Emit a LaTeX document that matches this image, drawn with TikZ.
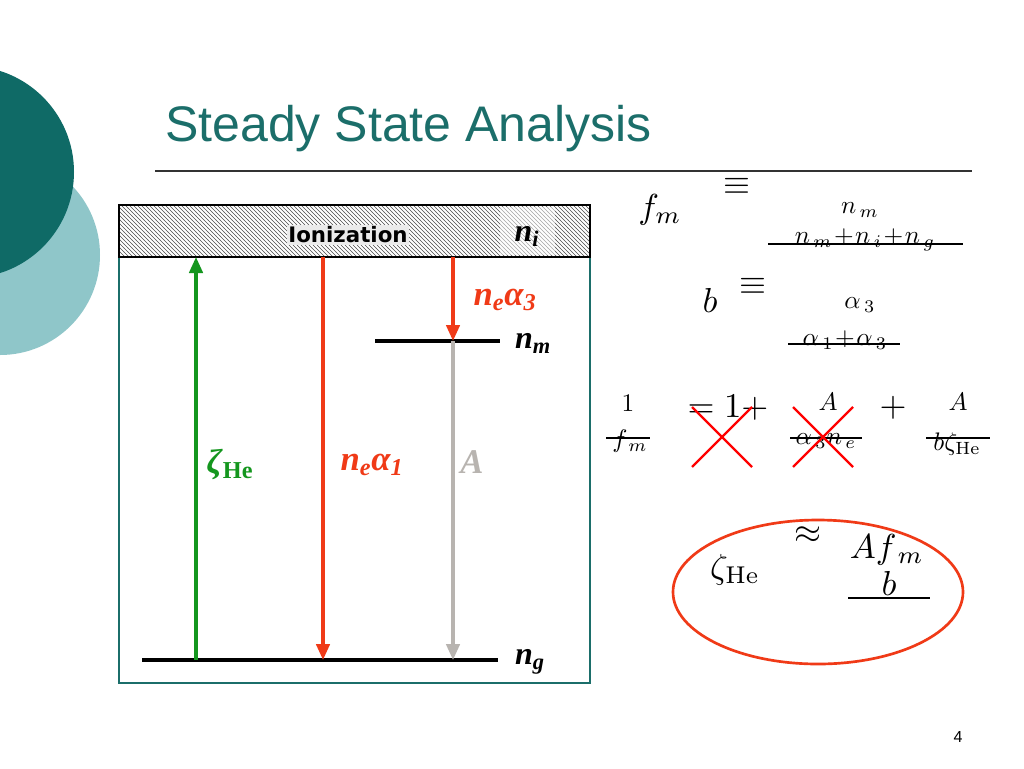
\documentclass[tikz,border=0pt]{standalone}
\usepackage{fontspec}
\newfontfamily\arial{Liberation Sans}
\newfontfamily\tms{Liberation Serif}
\newfontfamily\vsans{DejaVu Sans}
\usetikzlibrary{patterns,arrows.meta}
\definecolor{dteal}{HTML}{0F6A66}
\definecolor{lteal}{HTML}{8FC6C9}
\definecolor{tteal}{HTML}{1B6E6A}
\definecolor{rred}{HTML}{F03A17}
\definecolor{ggreen}{HTML}{14961E}
\definecolor{ggray}{HTML}{B8B4B0}
\begin{document}
\begin{tikzpicture}[x=0.75pt,y=-0.75pt,
  lvl/.style={line width=3pt},
  arr/.style={line width=2.6pt,-{Triangle[length=12pt,width=10pt]}},
  lab/.style={font=\fontsize{24}{24}\selectfont\tms\bfseries\itshape},
  m/.style={scale=2.6, transform shape, inner sep=0pt},
  ms/.style={scale=1.9, transform shape, inner sep=0pt},
  fl/.style={line width=1.2pt},
  xx/.style={draw=red,line width=1.8pt}]
\useasboundingbox (0,0) rectangle (1024,768);
\fill[white] (0,0) rectangle (1024,768);
\begin{scope}
\clip (0,0) rectangle (1024,768);
\fill[lteal] (0,255) circle (100);
\fill[dteal] (-32,172) circle (106);
\end{scope}
\node[anchor=west,font=\fontsize{37.5}{38}\selectfont\arial,text=tteal,inner sep=0pt] (title) at (165,129) {Steady State Analysis};
\draw[line width=1pt,black!80] (155,171) -- (972,171);
% box
\draw[tteal,line width=1.5pt] (119,205) rectangle (590,683);
\fill[pattern=north west lines,pattern color=black!70] (119,205) rectangle (590,257);
\fill[white,opacity=0.5] (500,207) rectangle (555,255);
\draw[black,line width=2pt] (119,205) rectangle (590,257);
\node[font=\fontsize{16}{16}\selectfont\vsans\bfseries,fill=white!92!black,inner sep=1pt] (ion) at (348,235) {Ionization};
\node[lab] (ni) at (527,236) {n\textsubscript{i}};
% levels
\coordinate (top1) at (196,257); \coordinate (top2) at (323,257); \coordinate (top3) at (453,257);
\coordinate (g1) at (196,660); \coordinate (g2) at (323,660); \coordinate (g3) at (453,660);
\coordinate (m3) at (453,341);
\draw[lvl] (375,341) -- (500,341);
\draw[lvl] (142,660) -- (498,660);
\draw[arr,ggreen] (g1) -- (top1);
\draw[arr,rred] (top2) -- (g2);
\draw[arr,rred] (top3) -- (m3);
\draw[arr,ggray] (m3) -- (g3);
\node[lab] (nm) at (533,343) {n\textsubscript{m}};
\node[lab] (ng) at (530,662) {n\textsubscript{g}};
\node[lab,text=rred,font=\fontsize{26}{26}\selectfont\tms\bfseries\itshape] (na3) at (505,300) {n\textsubscript{e}α\textsubscript{3}};
\node[lab,text=rred,font=\fontsize{26}{26}\selectfont\tms\bfseries\itshape] (na1) at (372,465) {n\textsubscript{e}α\textsubscript{1}};
\node[lab,text=ggray,font=\fontsize{26}{26}\selectfont\tms\bfseries\itshape] (A) at (472,462) {A};
\node[text=ggreen,font=\fontsize{26}{26}\selectfont\tms\bfseries] (zh) at (230,465) {\textit{ζ}\textsubscript{He}};
% equations
\node[m] (fm) at (660,210) {$f_m$};
\node[m] (eq1) at (737,186) {$\equiv$};
\node[ms] (nm1) at (860,210) {$n_{\,m}$};
\node[ms] (den1) at (865,240) {$n_{\,m}\!+\!n_{\,i}\!+\!n_{\,g}$};
\draw[fl] (768,244) -- (963,244);
\node[m] (b1) at (710,300) {$b$};
\node[m] (eq2) at (753,286) {$\equiv$};
\node[ms] (a3) at (860,305) {$\alpha_{\,3}$};
\node[ms] (den2) at (845,340) {$\alpha_{\,1}\!+\!\alpha_{\,3}$};
\draw[fl] (788,344) -- (900,344);
\node[ms] (one) at (628,403) {$1$};
\node[ms] (fm2) at (630,441) {$f_{\,m}$};
\draw[fl] (606,438) -- (650,438);
\node[m] (eq3) at (728,408) {$=1+$};
\node[ms] (A1) at (828,402) {$A$};
\node[ms] (den3) at (826,441) {$\alpha_{\,3}n_{\,e}$};
\draw[fl] (790,438) -- (862,438);
\node[m] (plus) at (893,408) {$+$};
\node[ms] (A2) at (958,402) {$A$};
\node[ms] (den4) at (957,444) {$b\zeta_{\mathrm{He}}$};
\draw[fl] (926,438) -- (990,438);
\draw[xx] (692,407) -- (752,467) (752,407) -- (692,467);
\draw[xx] (793,407) -- (853,467) (853,407) -- (793,467);
% circled
\draw[rred,line width=2pt] (818,592) ellipse (145 and 72);
\node[m] (zeta) at (735,570) {$\zeta_{\mathrm{He}}$};
\node[m] (approx) at (808,535) {$\approx$};
\node[m] (afm) at (887,550) {$Af_{\,m}$};
\node[m] (bb) at (889,583) {$b$};
\draw[fl] (848,598) -- (930,598);
\node[font=\fontsize{12}{12}\selectfont\arial] (pg) at (958,737) {4};
\end{tikzpicture}
\end{document}
